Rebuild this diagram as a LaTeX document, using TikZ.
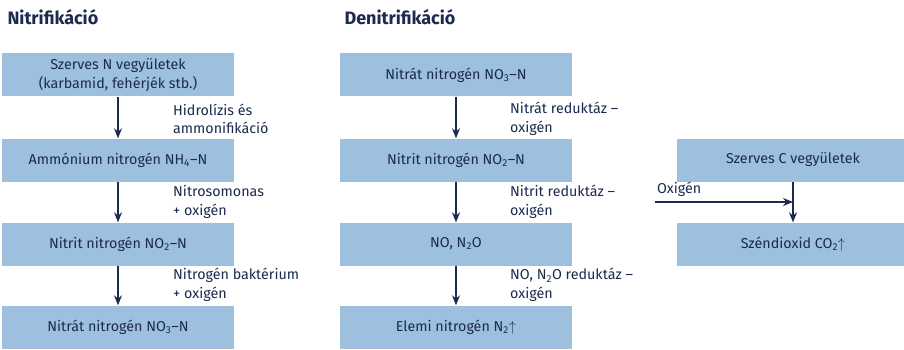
\documentclass[tikz,border=0pt]{standalone}
\usepackage{fontspec}
\setmainfont{Fira Sans}
\usepackage{xcolor}
\usetikzlibrary{arrows.meta}
\definecolor{boxblue}{HTML}{9DC0DF}
\definecolor{inkblue}{HTML}{1B2A4E}
\newcommand{\sbs}[1]{\textsubscript{#1}}

\begin{document}
\begin{tikzpicture}[x=1pt, y=-1pt, >={Stealth[length=10pt,width=8pt]},
  every node/.style={text=inkblue, font=\fontsize{14.3}{18.5}\selectfont},
  stepbox/.style={fill=boxblue, minimum width=232pt, minimum height=43pt, inner sep=0pt, align=center},
  title/.style={anchor=west, font=\fontsize{18}{20}\selectfont\bfseries},
  note/.style={anchor=west, align=left, inner sep=0pt},
  arr/.style={->, draw=inkblue, line width=1.2pt}]
\useasboundingbox (0,0) rectangle (904,350);
\fill[white] (0,0) rectangle (904,350);
%--- Column A: Nitrifikacio ---
\node[title] (tn) at (4,17) {Nitrifikáció};
\node[stepbox] (n1) at (118,75) {Szerves N vegyületek\\(karbamid, fehérjék stb.)};
\node[stepbox] (n2) at (118,160) {Ammónium nitrogén NH\sbs{4}–N};
\node[stepbox] (n3) at (118,244) {Nitrit nitrogén NO\sbs{2}–N};
\node[stepbox] (n4) at (118,327) {Nitrát nitrogén NO\sbs{3}–N};
\draw[arr] (n1) -- (n2);
\draw[arr] (n2) -- (n3);
\draw[arr] (n3) -- (n4);
% Labels
\node[note] (ln1) at (173,119) {Hidrolízis és\\ammonifikáció};
\node[note] (ln2) at (173,202) {Nitrosomonas\\+ oxigén};
\node[note] (ln3) at (173,285) {Nitrogén baktérium\\+ oxigén};
%--- Column B: Denitrifikacio ---
\node[title] (td) at (341,17) {Denitrifikáció};
\node[stepbox] (d1) at (456,75) {Nitrát nitrogén NO\sbs{3}–N};
\node[stepbox] (d2) at (456,160) {Nitrit nitrogén NO\sbs{2}–N};
\node[stepbox] (d3) at (456,244) {NO, N\sbs{2}O};
\node[stepbox] (d4) at (456,327) {Elemi nitrogén N\sbs{2}$\uparrow$};
\draw[arr] (d1) -- (d2);
\draw[arr] (d2) -- (d3);
\draw[arr] (d3) -- (d4);
% Labels
\node[note] (ld1) at (510,119) {Nitrát reduktáz –\\oxigén};
\node[note] (ld2) at (510,202) {Nitrit reduktáz –\\oxigén};
\node[note] (ld3) at (510,285) {NO, N\sbs{2}O reduktáz –\\oxigén};
%--- Column C: Szerves C ---
\node[stepbox] (c1) at (793,160) {Szerves C vegyületek};
\node[stepbox] (c2) at (793,244) {Széndioxid CO\sbs{2}$\uparrow$};
\draw[arr] (c1) -- (c2);
\coordinate (ox) at (655,202);
\draw[arr] (ox) -- (ox -| c1.south);
\node[note, anchor=south west] (lox) at (657,197) {Oxigén};
\end{tikzpicture}
\end{document}
